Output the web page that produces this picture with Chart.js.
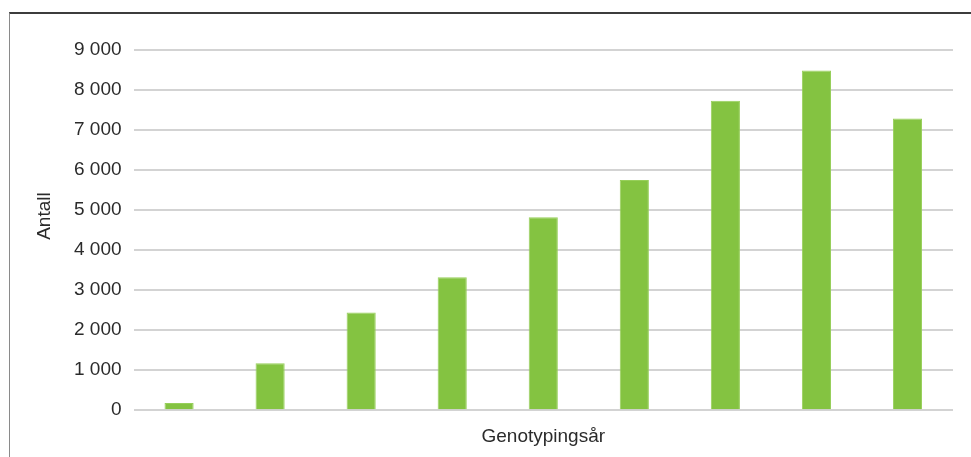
<!DOCTYPE html>
<html>
<head>
<meta charset="utf-8">
<script src="https://cdn.jsdelivr.net/npm/chart.js@4.4.1/dist/chart.umd.min.js"></script>
<style>
    html, body {
        margin: 0;
        padding: 0;
        background: #ffffff;
        overflow: hidden;
    }
    #ramme {
        position: absolute;
        left: 9px;
        top: 12px;
        width: 962px;
        height: 445px;
        border-top: 2px solid #3c3c3c;
        border-left: 1px solid #8a8a8a;
        box-sizing: border-box;
    }
    #graf {
        position: absolute;
        left: 0;
        top: 0;
    }
</style>
</head>
<body>
<div id="ramme">
    <canvas id="graf" width="961" height="443"></canvas>
</div>
<script>
let aar = ["2008", "2009", "2010", "2011", "2012", "2013", "2014", "2015", "2016"];
let antall = [180, 1175, 2440, 3320, 4820, 5750, 7735, 8490, 7290];
let yTittel = "Antall";
let xTittel = "Genotypingsår";

let tekstFarge = "#2b2b2b";
let grafFont = "'Liberation Sans', Arial, Helvetica, sans-serif";

function formaterTall(verdi) {
    return String(verdi).replace(/\B(?=(\d{3})+(?!\d))/g, " ");
}

// y-aksens tittel tegnes selv, litt over midten av plottet
let yTittelPlugin = {
    id: "yTittel",
    afterDraw: function(chart) {
        let ctx = chart.ctx;
        let area = chart.chartArea;
        ctx.save();
        ctx.translate(35, (area.top + area.bottom) / 2 - 14);
        ctx.rotate(-Math.PI / 2);
        ctx.font = "19px " + grafFont;
        ctx.fillStyle = tekstFarge;
        ctx.textAlign = "center";
        ctx.textBaseline = "middle";
        ctx.fillText(yTittel, 0, 0);
        ctx.restore();
    }
};

let graf = new Chart(document.getElementById("graf"), {
    type: "bar",
    data: {
        labels: aar,
        datasets: [{
            label: "Antall",
            data: antall,
            backgroundColor: "#84c341",
            borderColor: "#97cf5a",
            borderWidth: 1,
            barPercentage: 0.32,
            categoryPercentage: 1
        }]
    },
    options: {
        responsive: false,
        animation: false,
        layout: {
            padding: { left: 52, right: 18, top: 36, bottom: 4 }
        },
        plugins: {
            legend: { display: false },
            tooltip: { enabled: false }
        },
        scales: {
            x: {
                grid: { display: false },
                border: { display: false },
                ticks: { display: false },
                title: {
                    display: true,
                    text: xTittel,
                    color: tekstFarge,
                    font: { family: grafFont, size: 19 },
                    padding: { top: 7, bottom: 5 }
                }
            },
            y: {
                min: 0,
                max: 9000,
                ticks: {
                    stepSize: 1000,
                    color: tekstFarge,
                    padding: 12,
                    font: { family: grafFont, size: 19 },
                    callback: function(verdi) {
                        return formaterTall(verdi);
                    }
                },
                grid: {
                    color: "#d3d3d3",
                    lineWidth: 2,
                    drawTicks: false
                },
                border: { display: false }
            }
        }
    },
    plugins: [yTittelPlugin]
});
</script>
</body>
</html>
